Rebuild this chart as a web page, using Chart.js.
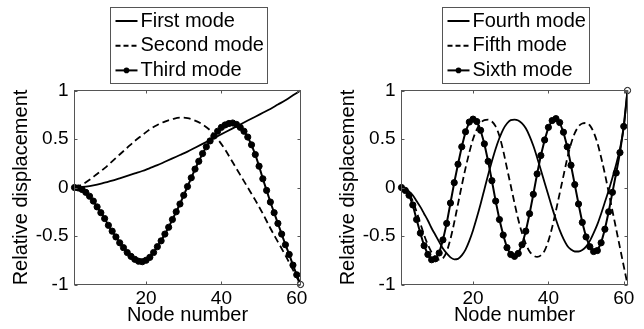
<!DOCTYPE html>
<html>
<head>
<meta charset="utf-8">
<script src="https://cdn.jsdelivr.net/npm/chart.js@4.4.1/dist/chart.umd.min.js"></script>
<style>
html,body{margin:0;padding:0;background:#fff;}
#wrap{position:relative;width:644px;height:329px;overflow:hidden;}
canvas{position:absolute;top:0;}
</style>
</head>
<body>
<div id="wrap">
<canvas id="c1" width="322" height="329" style="left:0px"></canvas>
<canvas id="c2" width="322" height="329" style="left:322px"></canvas>
</div>
<script>
// ---------- data ----------
const nodesAll = [1,2,3,4,5,6,7,8,9,10,11,12,13,14,15,16,17,18,19,20,21,22,23,24,25,26,27,28,29,30,
  31,32,33,34,35,36,37,38,39,40,41,42,43,44,45,46,47,48,49,50,51,52,53,54,55,56,57,58,59,60,61];
const nodesOdd = [1,3,5,7,9,11,13,15,17,19,21,23,25,27,29,31,33,35,37,39,41,43,45,47,49,51,53,55,57,59,61];

const firstMode = [0,0.005,0.015,0.03,0.05,0.07,0.095,0.12,0.145,0.17,0.2,0.23,0.265,0.3,0.335,0.37,
  0.41,0.45,0.49,0.53,0.57,0.61,0.65,0.69,0.73,0.77,0.81,0.855,0.9,0.95,1.0];
const secondMode = [0,0.03,0.08,0.14,0.2,0.27,0.34,0.41,0.48,0.54,0.6,0.645,0.68,0.705,0.72,0.715,
  0.69,0.65,0.59,0.5,0.39,0.26,0.13,0.0,-0.13,-0.27,-0.42,-0.56,-0.7,-0.85,-1.0];
const thirdMode = [0,-0.005,-0.02,-0.05,-0.09,-0.14,-0.20,-0.26,-0.32,-0.39,
  -0.45,-0.51,-0.57,-0.62,-0.67,-0.71,-0.74,-0.76,-0.765,-0.75,
  -0.72,-0.67,-0.61,-0.55,-0.48,-0.41,-0.33,-0.25,-0.17,-0.08,
  0.01,0.10,0.19,0.27,0.35,0.42,0.48,0.53,0.58,0.62,
  0.645,0.66,0.665,0.65,0.62,0.58,0.52,0.44,0.34,0.22,
  0.09,-0.03,-0.15,-0.26,-0.37,-0.48,-0.59,-0.69,-0.80,-0.90,
  -1.0];
const fourthMode = [0,-0.01,-0.04,-0.08,-0.14,-0.20,-0.27,-0.34,-0.42,-0.49,
  -0.56,-0.63,-0.68,-0.72,-0.74,-0.735,-0.70,-0.64,-0.55,-0.44,
  -0.31,-0.17,-0.02,0.13,0.27,0.40,0.51,0.60,0.66,0.695,
  0.70,0.69,0.66,0.61,0.53,0.43,0.31,0.18,0.05,-0.08,
  -0.21,-0.33,-0.44,-0.53,-0.60,-0.64,-0.66,-0.66,-0.645,-0.61,
  -0.55,-0.47,-0.38,-0.27,-0.15,-0.03,0.10,0.24,0.40,0.62,
  1.0];
const fifthMode = [0,-0.02,-0.06,-0.14,-0.25,-0.37,-0.49,-0.59,-0.67,-0.72,
  -0.745,-0.73,-0.66,-0.53,-0.36,-0.17,0.02,0.20,0.36,0.50,
  0.60,0.665,0.695,0.70,0.68,0.63,0.53,0.38,0.20,0.02,
  -0.16,-0.33,-0.47,-0.58,-0.66,-0.70,-0.715,-0.70,-0.65,-0.55,
  -0.41,-0.24,-0.06,0.12,0.30,0.45,0.56,0.63,0.66,0.665,
  0.64,0.57,0.46,0.31,0.14,-0.05,-0.24,-0.43,-0.62,-0.81,
  -1.0];
const sixthMode = [0,-0.03,-0.08,-0.18,-0.33,-0.47,-0.60,-0.69,-0.745,-0.735,
  -0.675,-0.54,-0.37,-0.16,0.05,0.24,0.42,0.575,0.675,0.705,
  0.68,0.59,0.45,0.27,0.07,-0.14,-0.33,-0.49,-0.62,-0.69,
  -0.71,-0.68,-0.59,-0.45,-0.27,-0.07,0.14,0.33,0.49,0.62,
  0.69,0.71,0.67,0.57,0.42,0.23,0.03,-0.17,-0.36,-0.51,
  -0.61,-0.66,-0.65,-0.57,-0.43,-0.25,-0.05,0.15,0.36,0.63,
  1.0];

const leftLabels = ['First mode', 'Second mode', 'Third mode'];
const rightLabels = ['Fourth mode', 'Fifth mode', 'Sixth mode'];
const xTickValues = [20, 40, 60];
const yTickValues = [-1, -0.5, 0, 0.5, 1];
const xTitle = 'Node number';
const yTitle = 'Relative displacement';

// ---------- styling ----------
const FONT = '"Liberation Sans", Arial, Helvetica, sans-serif';
const AXIS_COLOR = '#555555';
Chart.defaults.font.family = FONT;
Chart.defaults.color = '#000';

function pts(xs, ys) { return xs.map((x, i) => ({x: x, y: ys[i]})); }

const matlabBox = {
  id: 'matlabBox',
  afterDatasetsDraw(chart) {
    const {ctx, chartArea: a, scales: {x, y}} = chart;
    ctx.save();
    ctx.strokeStyle = AXIS_COLOR;
    ctx.lineWidth = 1;
    ctx.strokeRect(a.left, a.top, a.right - a.left, a.bottom - a.top);
    ctx.beginPath();
    x.ticks.forEach(t => {
      const px = Math.round(x.getPixelForValue(t.value)) + 0.5;
      ctx.moveTo(px, a.bottom); ctx.lineTo(px, a.bottom - 3);
      ctx.moveTo(px, a.top); ctx.lineTo(px, a.top + 3);
    });
    y.ticks.forEach(t => {
      const py = Math.round(y.getPixelForValue(t.value)) + 0.5;
      ctx.moveTo(a.left, py); ctx.lineTo(a.left + 3, py);
      ctx.moveTo(a.right, py); ctx.lineTo(a.right - 3, py);
    });
    ctx.stroke();
    ctx.restore();
  },
  afterDraw(chart) {
    const {ctx, chartArea: a} = chart;
    const ds = chart.data.datasets;
    ctx.save();
    ctx.font = '20px ' + FONT;
    const tw = Math.max(...ds.map(d => ctx.measureText(d.label).width));
    const w = Math.round(30 + tw + 4), h = 76;
    const bx = Math.round((a.left + a.right) / 2 - w / 2) + 1.5, by = 7.5;
    ctx.fillStyle = '#fff';
    ctx.fillRect(bx, by, w, h);
    ctx.strokeStyle = AXIS_COLOR;
    ctx.lineWidth = 1;
    ctx.strokeRect(bx, by, w, h);
    ds.forEach((d, i) => {
      const ry = 21 + i * 24.7;
      ctx.strokeStyle = '#000';
      ctx.lineWidth = 2;
      ctx.setLineDash(d.borderDash && d.borderDash.length ? [5, 3] : []);
      ctx.beginPath();
      ctx.moveTo(bx + 5, ry); ctx.lineTo(bx + 27, ry);
      ctx.stroke();
      ctx.setLineDash([]);
      if (d.pointRadius > 0) {
        ctx.fillStyle = '#000';
        ctx.beginPath();
        ctx.arc(bx + 16, ry, 2.8, 0, Math.PI * 2);
        ctx.fill();
      }
      ctx.fillStyle = '#000';
      ctx.textBaseline = 'middle';
      ctx.textAlign = 'left';
      ctx.fillText(d.label, bx + 30, ry);
    });
    ctx.restore();
  }
};

function lineDs(label, xs, ys, dashed) {
  return {
    label: label, data: pts(xs, ys),
    borderColor: '#000', backgroundColor: '#000',
    borderWidth: 1.8, borderDash: dashed ? [7, 4] : [],
    pointRadius: 0, pointHoverRadius: 0,
    cubicInterpolationMode: 'monotone', fill: false, clip: false
  };
}
function markDs(label, xs, ys) {
  return {
    label: label, data: pts(xs, ys),
    borderColor: '#000', borderWidth: 2, borderDash: [],
    pointRadius: 3.1, pointHoverRadius: 3.1, pointBorderWidth: 1,
    pointBorderColor: '#000',
    pointBackgroundColor: c => (c.dataIndex === xs.length - 1 ? '#fff' : '#000'),
    tension: 0, fill: false, clip: false
  };
}

function makeOptions(yAxisWidth, rightPad, yTitlePad) {
  return {
    responsive: false, maintainAspectRatio: false, animation: false,
    devicePixelRatio: 1,
    layout: { padding: { left: 0, right: rightPad, top: 90.5, bottom: 0 } },
    plugins: { legend: { display: false }, tooltip: { enabled: false }, title: { display: false } },
    events: [],
    scales: {
      x: {
        type: 'linear', min: 1, max: 61,
        afterFit: s => { s.height = 44.5; },
        afterBuildTicks: s => { s.ticks = xTickValues.map(v => ({value: v})); },
        grid: { display: false, drawTicks: false },
        border: { display: false },
        ticks: { font: { size: 19 }, color: '#000', padding: 3, maxRotation: 0, autoSkip: false,
                 callback: v => String(v) },
        title: { display: true, text: xTitle, font: { size: 20 }, color: '#000', padding: { top: 0, bottom: 1.8 } }
      },
      y: {
        type: 'linear', min: -1, max: 1,
        afterFit: s => { s.width = yAxisWidth; },
        afterBuildTicks: s => { s.ticks = yTickValues.map(v => ({value: v})); },
        grid: { display: false, drawTicks: false },
        border: { display: false },
        ticks: { font: { size: 19 }, color: '#000', padding: 6, callback: v => String(v) },
        title: { display: true, text: yTitle, font: { size: 20 }, color: '#000', padding: { top: yTitlePad, bottom: 0 } }
      }
    }
  };
}

new Chart(document.getElementById('c1'), {
  type: 'line',
  data: { datasets: [
    lineDs(leftLabels[0], nodesOdd, firstMode, false),
    lineDs(leftLabels[1], nodesOdd, secondMode, true),
    markDs(leftLabels[2], nodesAll, thirdMode)
  ]},
  options: makeOptions(74.5, 21.5, 9.6),
  plugins: [matlabBox]
});

new Chart(document.getElementById('c2'), {
  type: 'line',
  data: { datasets: [
    lineDs(rightLabels[0], nodesAll, fourthMode, false),
    lineDs(rightLabels[1], nodesAll, fifthMode, true),
    markDs(rightLabels[2], nodesAll, sixthMode)
  ]},
  options: makeOptions(79.5, 16.5, 14.3),
  plugins: [matlabBox]
});
</script>
</body>
</html>
